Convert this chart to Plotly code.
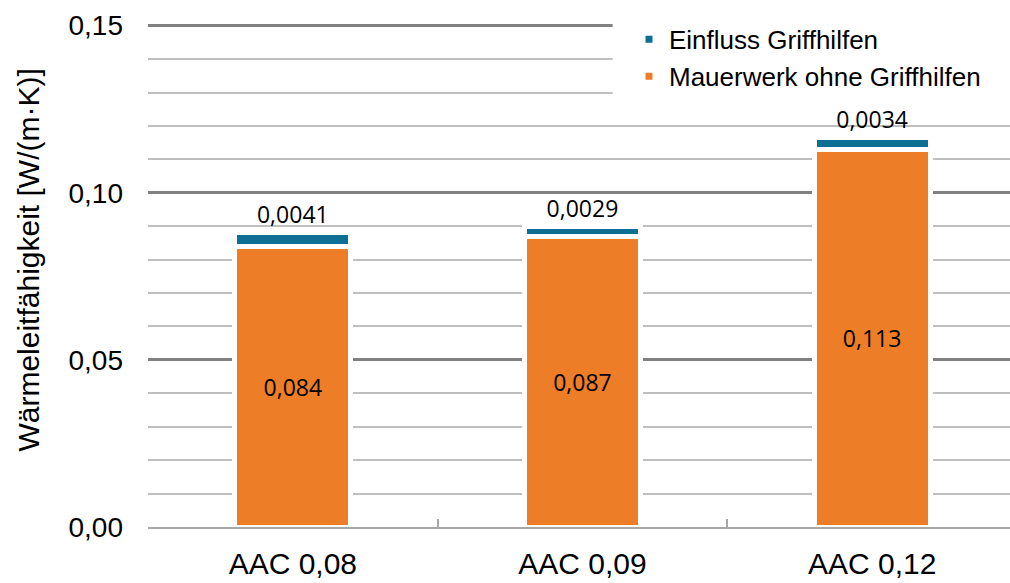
import plotly.graph_objects as go

categories = ["AAC 0,08", "AAC 0,09", "AAC 0,12"]
mauerwerk = [0.084, 0.087, 0.113]
einfluss = [0.0041, 0.0029, 0.0034]
series_names = ["Mauerwerk ohne Griffhilfen", "Einfluss Griffhilfen"]
y_ticks = [0.0, 0.05, 0.10, 0.15]
y_tick_labels = ["0,00", "0,05", "0,10", "0,15"]
y_title = "Wärmeleitfähigkeit [W/(m·K)]"

def fmt(v):
    return str(v).replace(".", ",")

ORANGE = "#EE7D27"
BLUE = "#0C6F93"

fig = go.Figure()
fig.add_trace(go.Bar(
    x=categories, y=mauerwerk, name=series_names[0],
    marker=dict(color=ORANGE, line=dict(color="white", width=5)),
    width=0.4,
    text=[fmt(v) for v in mauerwerk], textposition="inside",
    insidetextanchor="middle",
    textfont=dict(family="Open Sans", size=23, color="black"),
))
fig.add_trace(go.Bar(
    x=categories, y=einfluss, name=series_names[1],
    marker=dict(color=BLUE, line=dict(color="white", width=5)),
    width=0.4,
    text=[fmt(v) for v in einfluss], textposition="outside",
    textfont=dict(family="Open Sans", size=23, color="black"),
    cliponaxis=False,
))

fig.update_layout(
    barmode="stack",
    width=1010, height=583,
    margin=dict(l=148, r=0, t=24, b=56),
    paper_bgcolor="white", plot_bgcolor="white",
    font=dict(family="Liberation Sans", color="black"),
    uniformtext=dict(minsize=8, mode="show"),
    legend=dict(
        x=0.558, y=1.016, xanchor="left", yanchor="top",
        font=dict(size=26, family="Liberation Sans"),
        bgcolor="rgba(0,0,0,0)", borderwidth=0,
        traceorder="reversed",
    ),
    showlegend=True,
    shapes=[dict(
        type="rect", xref="paper", yref="y", x0=0.539, x1=1.0, y0=0.1255, y1=0.153,
        fillcolor="white", line=dict(width=0), layer="above",
    )],
    annotations=[dict(
        text=y_title, textangle=-90, xref="paper", yref="paper",
        x=-0.139, y=0.53, xanchor="center", yanchor="middle",
        showarrow=False, font=dict(size=30, family="Liberation Sans", color="black"),
    )],
)
fig.update_xaxes(
    range=[-0.5, 2.476],
    showline=True, linecolor="#A6A6A6", linewidth=2,
    ticks="inside", tickson="boundaries", ticklen=8, tickcolor="#A6A6A6", tickwidth=2,
    tickfont=dict(size=30, family="Liberation Sans"),
    ticklabelstandoff=9,
    showgrid=False, automargin=False,
)
fig.update_yaxes(
    range=[0, 0.1505],
    tickvals=y_ticks, ticktext=y_tick_labels,
    tickfont=dict(size=28, family="Liberation Sans"),
    ticklabelstandoff=24,
    showgrid=True, gridcolor="#808080", gridwidth=3,
    zeroline=False, showline=False,
    minor=dict(dtick=0.01, showgrid=True, gridcolor="#BFBFBF", gridwidth=2),
    automargin=False,
)

fig.write_html("out.html")
